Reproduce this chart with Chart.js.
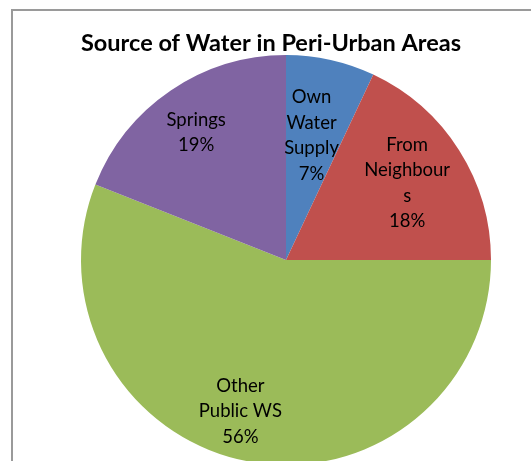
<!DOCTYPE html>
<html>
<head>
<meta charset="utf-8">
<script src="https://cdn.jsdelivr.net/npm/chart.js@4"></script>
<style>
  html, body { margin: 0; padding: 0; background: #fff; overflow: hidden; width: 531px; height: 461px; }
  #frame { position: absolute; left: 11px; top: 9px; width: 560px; height: 480px; border: 2px solid #9a9a9a; }
  #chart { position: absolute; left: 0; top: 0; }
</style>
</head>
<body>
<div id="frame"></div>
<canvas id="chart" width="542" height="465"></canvas>
<script>
const titulo = "Source of Water in Peri-Urban Areas";
const categorias = ["Own Water Supply", "From Neighbours", "Other Public WS", "Springs"];
const valores = [7, 18, 56, 19];
const cores = ["#4F81BD", "#C0504D", "#9BBB59", "#8064A2"];
// how Excel wrapped the category names inside the slices
const linhasRotulo = [["Own", "Water", "Supply"], ["From", "Neighbour", "s"], ["Other", "Public WS"], ["Springs"]];
const distRotulo = [0.62, 0.70, 0.77, 0.76];
const ajusteAngulo = [-1, 0, 6, -1];

const fonteRotulo = "18.5px Lato";

const pluginTitulo = {
  id: "tituloFixo",
  afterDraw(chart) {
    const ctx = chart.ctx;
    ctx.save();
    ctx.font = "bold 23.5px Lato";
    ctx.fillStyle = "#000";
    ctx.textAlign = "center";
    ctx.textBaseline = "middle";
    ctx.fillText(titulo, chart.width / 2, 43);
    ctx.restore();
  }
};

const pluginRotulos = {
  id: "rotulos",
  afterDatasetsDraw(chart) {
    const ctx = chart.ctx;
    const meta = chart.getDatasetMeta(0);
    const total = valores.reduce((a, b) => a + b, 0);
    ctx.save();
    ctx.font = fonteRotulo;
    ctx.fillStyle = "#000";
    ctx.textAlign = "center";
    ctx.textBaseline = "middle";
    meta.data.forEach((arc, i) => {
      const a = (arc.startAngle + arc.endAngle) / 2 + ajusteAngulo[i] * Math.PI / 180;
      const r = arc.outerRadius * distRotulo[i];
      const x = arc.x + r * Math.cos(a);
      const y = arc.y + r * Math.sin(a);
      const linhas = linhasRotulo[i].concat([Math.round(valores[i] / total * 100) + "%"]);
      const lh = 25.5;
      const y0 = y - (linhas.length - 1) * lh / 2;
      linhas.forEach((t, k) => ctx.fillText(t, x, y0 + k * lh));
    });
    ctx.restore();
  }
};

const ctx = document.getElementById("chart").getContext("2d");
new Chart(ctx, {
  type: "pie",
  data: {
    labels: categorias,
    datasets: [{
      data: valores,
      backgroundColor: cores,
      borderWidth: 0
    }]
  },
  options: {
    responsive: false,
    animation: false,
    layout: { padding: { top: 55, left: 30, right: 0, bottom: 0 } },
    plugins: {
      legend: { display: false },
      tooltip: { enabled: false },
      title: { display: false }
    }
  },
  plugins: [pluginTitulo, pluginRotulos]
});
</script>
</body>
</html>
